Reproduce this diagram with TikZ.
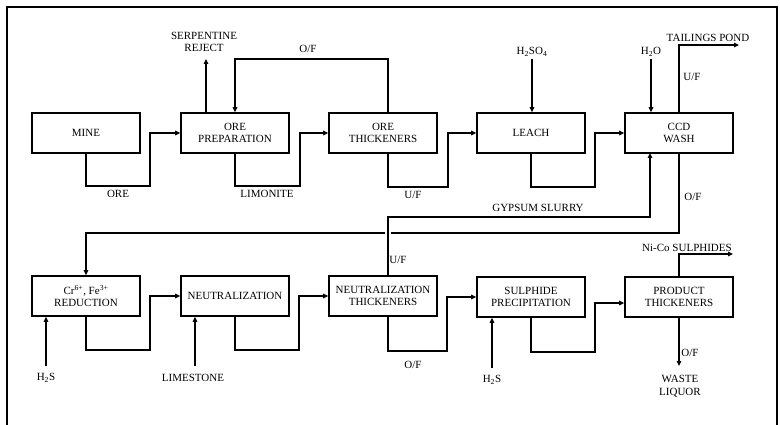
\documentclass[tikz,border=0pt]{standalone}
\usepackage{fontspec}
\setmainfont{Liberation Serif}
\usetikzlibrary{arrows.meta}
\begin{document}
\begin{tikzpicture}[x=1pt,y=-1pt,
  unit/.style={draw,line width=1.7pt,minimum width=108pt,minimum height=40pt,
    align=center,inner sep=1pt,font=\fontsize{11}{12.5}\selectfont},
  flow/.style={line width=1.3pt,-{Triangle[length=5pt,width=4.5pt]}},
  lbl/.style={font=\fontsize{11}{12.5}\selectfont,align=center,inner sep=0pt}]
\useasboundingbox (0,0) rectangle (780,425);
% outer frame
\draw[line width=2.5pt] (7,426) -- (7,7) -- (777,7) -- (777,426);

% process units, upper row
\node[unit] (mine)  at (86,133)  {MINE};
\node[unit] (prep)  at (235,133) {ORE\\PREPARATION};
\node[unit] (othk)  at (383,133) {ORE\\THICKENERS};
\node[unit] (leach) at (531,133) {LEACH};
\node[unit] (ccd)   at (679,133) {CCD\\WASH};
% process units, lower row
\node[unit] (red)   at (86,296)  {Cr\textsuperscript{6+}, Fe\textsuperscript{3+}\\REDUCTION};
\node[unit] (neut)  at (235,296) {NEUTRALIZATION};
\node[unit] (nthk)  at (383,296) {NEUTRALIZATION\\THICKENERS};
\node[unit] (sulph) at (531,297) {SULPHIDE\\PRECIPITATION};
\node[unit] (prod)  at (679,297) {PRODUCT\\THICKENERS};

% end points of the feed and product streams
\coordinate (serp)  at (206,59);
\coordinate (acid)  at (532,59);
\coordinate (water) at (651,59);
\coordinate (pond)  at (739,45);
\coordinate (h2sA)  at (46,366);
\coordinate (lime)  at (195,366);
\coordinate (h2sB)  at (492,368);
\coordinate (nico)  at (733,254);
\coordinate (waste) at (679,366);

% upper row transfers
\draw[flow] (mine.south) |- (150,186) |- (prep.west);
\draw[flow] ([xshift=5pt]othk.north) |- (235,59) -- (prep.north);
\draw[flow] ([xshift=-29pt]prep.north) -- (serp);
\draw[flow] (prep.south) |- (300,186) |- (othk.west);
\draw[flow] ([xshift=5pt]othk.south) |- (448,187) |- (leach.west);
\draw[flow] (acid) -- (acid |- leach.north);
\draw[flow] (leach.south) |- (595,187) |- (ccd.west);
\draw[flow] (water) -- (water |- ccd.north);
\draw[flow] (ccd.north) |- (pond);

% overflow from the wash back to reduction
\draw[flow] (ccd.south) |- (86,233) -- (red.north);
% break where the underflow crosses
\draw[white,line width=6pt] (388,228) -- (388,238);
% gypsum slurry returned to the wash
\draw[flow] ([xshift=5pt]nthk.north) |- (650,217) -- (650,153);

% lower row transfers
\draw[flow] (red.south) |- (150,350) |- (neut.west);
\draw[flow] (h2sA) -- (h2sA |- red.south);
\draw[flow] (neut.south) |- (299,350) |- (nthk.west);
\draw[flow] (lime) -- (lime |- neut.south);
\draw[flow] ([xshift=5pt]nthk.south) |- (447,351) |- (sulph.west);
\draw[flow] (h2sB) -- (h2sB |- sulph.south);
\draw[flow] (sulph.south) |- (595,352) |- ([yshift=-6pt]prod.west);
\draw[flow] (prod.south) -- (waste);

% stream labels
\node[lbl] (t1)  at (204,42)  {SERPENTINE\\REJECT};
\node[lbl] (t2)  at (308,49)  {O/F};
\node[lbl] (t3)  at (118,194) {ORE};
\node[lbl] (t4)  at (267,194) {LIMONITE};
\node[lbl] (t5)  at (413,195) {U/F};
\node[lbl] (t6)  at (532,52)  {H\textsubscript{2}SO\textsubscript{4}};
\node[lbl] (t7)  at (651,52)  {H\textsubscript{2}O};
\node[lbl] (t8)  at (708,38)  {TAILINGS POND};
\node[lbl] (t9)  at (692,77)  {U/F};
\node[lbl] (t10) at (693,197) {O/F};
\node[lbl] (t11) at (538,208) {GYPSUM SLURRY};
\node[lbl] (t12) at (398,260) {U/F};
\node[lbl] (t13) at (413,365) {O/F};
\node[lbl] (t14) at (46,378)  {H\textsubscript{2}S};
\node[lbl] (t15) at (193,378) {LIMESTONE};
\node[lbl] (t16) at (492,380) {H\textsubscript{2}S};
\node[lbl] (t17) at (687,248) {Ni-Co SULPHIDES};
\node[lbl] (t18) at (690,353) {O/F};
\node[lbl] (t19) at (680,386) {WASTE\\LIQUOR};
\draw[flow] (prod.north) |- (nico);
\end{tikzpicture}
\end{document}
